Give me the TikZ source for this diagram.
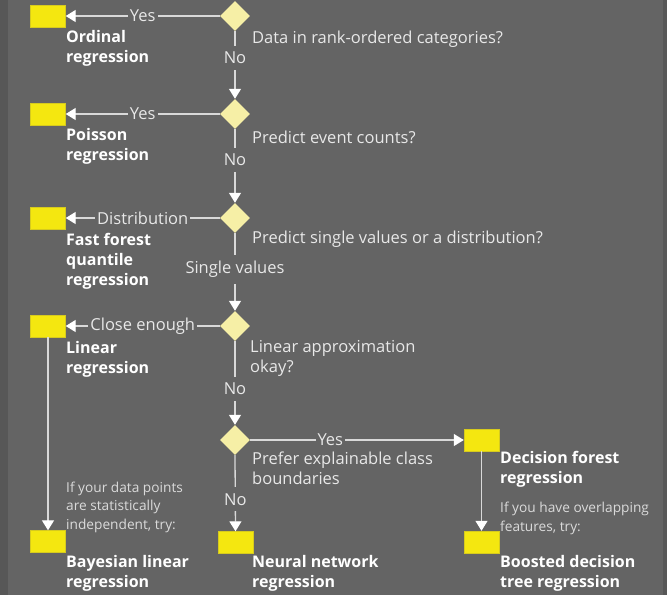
\documentclass[tikz,border=0pt]{standalone}
\usepackage{fontspec}
\setmainfont{Open Sans}
\usetikzlibrary{shapes.geometric,arrows.meta}
\definecolor{bg}{HTML}{646464}
\definecolor{strip}{HTML}{575757}
\definecolor{linecol}{HTML}{D9D9D9}
\definecolor{diamondfill}{HTML}{F6EFA6}
\definecolor{boxfill}{HTML}{F4E710}
\definecolor{boxedge}{HTML}{D6CA1E}
\definecolor{qtext}{HTML}{E8E8E8}
\definecolor{notetext}{HTML}{DADADA}
\begin{document}
\begin{tikzpicture}[x=1pt,y=-1pt,
  decision/.style={diamond, fill=diamondfill, minimum width=30pt, minimum height=30pt, inner sep=0pt},
  model/.style={rectangle, fill=boxfill, draw=boxedge, line width=0.4pt, minimum width=35pt, minimum height=22pt, inner sep=0pt},
  flow/.style={draw=linecol, line width=1.3pt, -{Triangle[width=12pt,length=10pt,color=white]}},
  edgelabel/.style={fill=bg, text=qtext, inner xsep=2pt, inner ysep=6pt, font=\fontsize{16.5}{20}\selectfont},
  question/.style={anchor=base west, inner sep=0pt, align=left, text=qtext, font=\fontsize{16.5}{20}\selectfont},
  modelname/.style={anchor=base west, inner sep=0pt, align=left, text=white, font=\bfseries\fontsize{16}{20}\selectfont},
  note/.style={anchor=base west, inner sep=0pt, align=left, text=notetext, font=\fontsize{13.7}{18.5}\selectfont}
]
% page and side strips
\fill[bg] (0,0) rectangle (667,595);
\fill[strip] (0,0) rectangle (8,595);
\fill[strip] (663,0) rectangle (667,595);
\useasboundingbox (0,0) rectangle (667,595);

% decisions
\node[decision] (d1) at (235,16) {};
\node[decision] (d2) at (235,114) {};
\node[decision] (d3) at (235,218) {};
\node[decision] (d4) at (235,326) {};
\node[decision] (d5) at (235,440) {};

% models
\node[model] (ord) at (48,16) {};
\node[model] (poi) at (48,114) {};
\node[model] (ffq) at (48,218) {};
\node[model] (lin) at (48,326) {};
\node[model] (bay) at (48,541.5) {};
\node[model] (nn)  at (235.5,542.5) {};
\node[model] (dfr) at (481.5,440) {};
\node[model] (bdt) at (481.5,542) {};

% connectors
\draw[flow] (d1.west) -- node[edgelabel, inner ysep=1pt]{Yes} (ord.east);
\draw[flow] (d2.west) -- node[edgelabel, inner ysep=1pt]{Yes} (poi.east);
\draw[flow] (d3.west) -- node[edgelabel, inner ysep=1pt]{Distribution} (ffq.east);
\draw[flow] (d4.west) -- node[edgelabel, inner ysep=1pt]{Close enough} (lin.east);
\draw[flow] (d5.east) -- node[edgelabel, inner ysep=1pt, pos=0.375]{Yes} (dfr.west);
\draw[flow] (d1.south) -- node[edgelabel, pos=0.39]{No} (d2.north);
\draw[flow] (d2.south) -- node[edgelabel, pos=0.42]{No} (d3.north);
\draw[flow] (d3.south) -- node[edgelabel, pos=0.47]{Single values} (d4.north);
\draw[flow] (d4.south) -- node[edgelabel, pos=0.57]{No} (d5.north);
\draw[flow] (d5.south) -- node[edgelabel, pos=0.58]{No} (nn.north);
\draw[flow] (lin.south) -- (bay.north);
\draw[flow] (dfr.south) -- (bdt.north);

% questions (anchored at the baseline of their last line)
\node[question] (q1) at (252,43) {Data in rank-ordered categories?};
\node[question] (q2) at (252,143) {Predict event counts?};
\node[question] (q3) at (252,243) {Predict single values or a distribution?};
\node[question] (q4) at (250,372) {Linear approximation\\okay?};
\node[question] (q5) at (252,484) {Prefer explainable class\\boundaries};

% model names
\node[modelname] (tord) at (66,62) {Ordinal\\regression};
\node[modelname] (tpoi) at (66,160) {Poisson\\regression};
\node[modelname] (tffq) at (66,285) {Fast forest\\quantile\\regression};
\node[modelname] (tlin) at (66,373) {Linear\\regression};
\node[modelname] (tbay) at (66,587) {Bayesian linear\\regression};
\node[modelname] (tnn)  at (252,587) {Neural network\\regression};
\node[modelname] (tdfr) at (500,483) {Decision forest\\regression};
\node[modelname] (tbdt) at (500,587) {Boosted decision\\tree regression};

% hints
\node[note] (nbay) at (66,529) {If your data points\\are statistically\\independent, try:};
\node[note] (nbdt) at (500,531) {If you have overlapping\\features, try:};
\end{tikzpicture}
\end{document}
